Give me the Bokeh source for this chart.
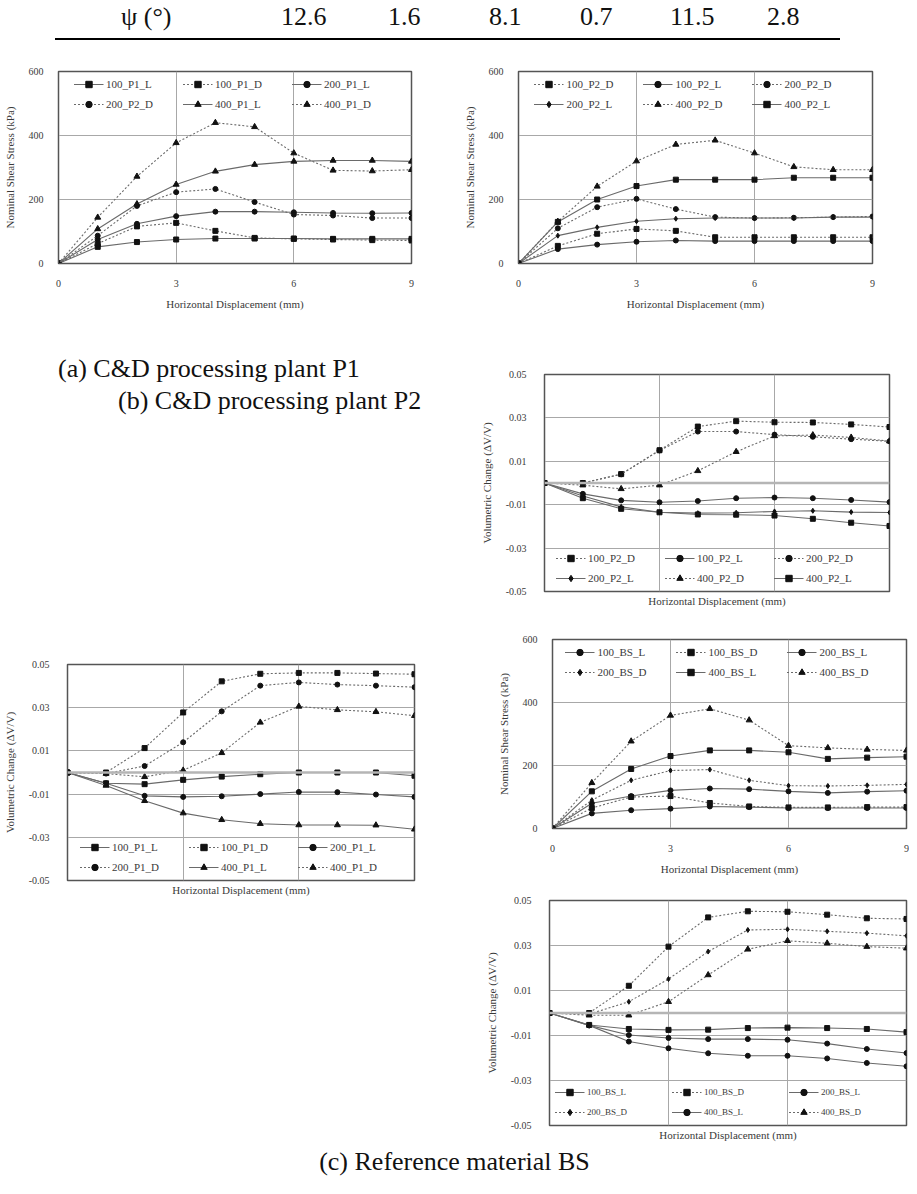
from bokeh.plotting import figure
from bokeh.models import Range1d, FixedTicker, Legend, LegendItem, Span, Div, Title
from bokeh.layouts import column, row
from bokeh.embed import file_html
from bokeh.resources import INLINE

# ---------------- data ----------------
psi_header = "ψ (°)"
psi_values = ["12.6", "1.6", "8.1", "0.7", "11.5", "2.8"]

disp = [0, 1, 2, 3, 4, 5, 6, 7, 8, 9]

# (a) P1 nominal shear stress (kPa)
p1_shear_labels = ["100_P1_L", "100_P1_D", "200_P1_L", "200_P2_D", "400_P1_L", "400_P1_D"]
p1_shear_100_L = [0, 52, 67, 75, 78, 78, 78, 77, 77, 77]
p1_shear_100_D = [0, 62, 116, 127, 102, 80, 77, 75, 73, 72]
p1_shear_200_L = [0, 75, 124, 148, 162, 162, 160, 158, 157, 158]
p1_shear_200_D = [0, 87, 180, 223, 233, 192, 153, 150, 142, 142]
p1_shear_400_L = [0, 108, 186, 247, 288, 309, 319, 322, 322, 319]
p1_shear_400_D = [0, 144, 272, 377, 440, 427, 345, 291, 289, 293]

# (b) P2 nominal shear stress (kPa)
p2_shear_labels = ["100_P2_D", "100_P2_L", "200_P2_D", "200_P2_L", "400_P2_D", "400_P2_L"]
p2_shear_100_D = [0, 55, 93, 108, 102, 82, 82, 82, 82, 82]
p2_shear_100_L = [0, 45, 59, 68, 72, 70, 70, 70, 70, 70]
p2_shear_200_D = [0, 110, 176, 202, 170, 145, 142, 143, 145, 147]
p2_shear_200_L = [0, 87, 113, 132, 140, 142, 142, 142, 145, 145]
p2_shear_400_D = [0, 131, 241, 320, 372, 385, 345, 302, 293, 293]
p2_shear_400_L = [0, 130, 200, 242, 262, 262, 262, 268, 268, 268]

# (b) P2 volumetric change
p2_vol_labels = ["100_P2_D", "100_P2_L", "200_P2_D", "200_P2_L", "400_P2_D", "400_P2_L"]
p2_vol_100_D = [0, 0.0, 0.0041, 0.0151, 0.0260, 0.0285, 0.0280, 0.0279, 0.0270, 0.0258]
p2_vol_100_L = [0, -0.0050, -0.0080, -0.0089, -0.0083, -0.0070, -0.0067, -0.0070, -0.0078, -0.0088]
p2_vol_200_D = [0, 0.0, 0.0040, 0.0150, 0.0237, 0.0237, 0.0223, 0.0213, 0.0202, 0.0192]
p2_vol_200_L = [0, -0.0060, -0.0110, -0.0135, -0.0139, -0.0137, -0.0131, -0.0128, -0.0134, -0.0136]
p2_vol_400_D = [0, -0.0010, -0.0027, -0.0010, 0.0056, 0.0144, 0.0217, 0.0221, 0.0210, 0.0193]
p2_vol_400_L = [0, -0.0070, -0.0119, -0.0135, -0.0145, -0.0146, -0.0150, -0.0165, -0.0183, -0.0198]

# (a) P1 volumetric change
p1_vol_labels = ["100_P1_L", "100_P1_D", "200_P1_L", "200_P1_D", "400_P1_L", "400_P1_D"]
p1_vol_100_L = [0, -0.0050, -0.0054, -0.0034, -0.0019, -0.0008, 0.0, 0.0, 0.0, -0.0015]
p1_vol_100_D = [0, 0.0, 0.0113, 0.0278, 0.0422, 0.0457, 0.0461, 0.0461, 0.0458, 0.0455]
p1_vol_200_L = [0, -0.0050, -0.0108, -0.0113, -0.0110, -0.0100, -0.0090, -0.0091, -0.0102, -0.0113]
p1_vol_200_D = [0, -0.0005, 0.0030, 0.0140, 0.0283, 0.0402, 0.0417, 0.0407, 0.0402, 0.0395]
p1_vol_400_L = [0, -0.0060, -0.0131, -0.0188, -0.0219, -0.0237, -0.0243, -0.0243, -0.0244, -0.0263]
p1_vol_400_D = [0, -0.0005, -0.0020, 0.0010, 0.0091, 0.0232, 0.0306, 0.0290, 0.0281, 0.0263]

# (c) BS nominal shear stress (kPa)
bs_shear_labels = ["100_BS_L", "100_BS_D", "200_BS_L", "200_BS_D", "400_BS_L", "400_BS_D"]
bs_shear_100_L = [0, 48, 58, 63, 70, 68, 65, 65, 65, 65]
bs_shear_100_D = [0, 65, 100, 103, 81, 70, 67, 67, 68, 68]
bs_shear_200_L = [0, 80, 103, 121, 127, 125, 118, 113, 117, 120]
bs_shear_200_D = [0, 90, 153, 184, 187, 153, 136, 135, 137, 140]
bs_shear_400_L = [0, 118, 189, 230, 248, 248, 242, 221, 225, 228]
bs_shear_400_D = [0, 145, 277, 359, 380, 344, 263, 256, 251, 248]

# (c) BS volumetric change
bs_vol_labels = ["100_BS_L", "100_BS_D", "200_BS_L", "200_BS_D", "400_BS_L", "400_BS_D"]
bs_vol_100_L = [0, -0.0053, -0.0071, -0.0075, -0.0074, -0.0067, -0.0065, -0.0067, -0.0071, -0.0085]
bs_vol_100_D = [0, 0.0, 0.0121, 0.0295, 0.0425, 0.0452, 0.0450, 0.0437, 0.0421, 0.0418]
bs_vol_200_L = [0, -0.0055, -0.0098, -0.0111, -0.0116, -0.0116, -0.0119, -0.0136, -0.0160, -0.0178]
bs_vol_200_D = [0, -0.0005, 0.0050, 0.0151, 0.0273, 0.0369, 0.0372, 0.0363, 0.0355, 0.0343]
bs_vol_400_L = [0, -0.0055, -0.0127, -0.0157, -0.0179, -0.0190, -0.0190, -0.0202, -0.0222, -0.0237]
bs_vol_400_D = [0, -0.0010, -0.0010, 0.0050, 0.0169, 0.0283, 0.0321, 0.0310, 0.0295, 0.0288]

x_ticks = [0, 3, 6, 9]
shear_ticks = [0, 200, 400, 600]
vol_ticks = [-0.05, -0.03, -0.01, 0.01, 0.03, 0.05]
vol_tick_text = ["-0.05", "-0.03", "-0.01", "0.01", "0.03", "0.05"]

captions_ab = ["(a) C&D processing plant P1", "(b) C&D processing plant P2"]
caption_c = "(c) Reference material BS"

# ---------------- styling helpers ----------------
FONT = "Liberation Serif"
CSS_FONT = "'Liberation Serif', 'Times New Roman', serif"
TXT = "#3a3a3a"
LINE = "#6a6a6a"
MARK = "#111111"


def make_fig(w, h, bl, br, bt, bb, y0, y1, yticks, ylabel, xlabels=True):
    p = figure(width=w, height=h, min_border_left=bl, min_border_right=br,
               min_border_top=bt, min_border_bottom=bb,
               x_range=Range1d(0, 9), y_range=Range1d(y0, y1),
               output_backend="svg", toolbar_location=None)
    try:
        p.frame_align = False
    except Exception:
        pass
    p.outline_line_color = "#555555"
    p.outline_line_width = 1.5
    p.background_fill_color = "white"
    p.border_fill_color = "white"
    p.xaxis.ticker = FixedTicker(ticks=x_ticks)
    p.yaxis.ticker = FixedTicker(ticks=yticks)
    p.xgrid.ticker = FixedTicker(ticks=x_ticks)
    p.ygrid.ticker = FixedTicker(ticks=yticks)
    for ax in (p.xaxis[0], p.yaxis[0]):
        ax.major_tick_line_color = None
        ax.minor_tick_line_color = None
        ax.axis_line_color = "#555555"
        ax.major_label_text_font = FONT
        ax.major_label_text_font_size = "10px"
        ax.major_label_text_color = TXT
        ax.axis_label_text_font = FONT
        ax.axis_label_text_font_size = "11px"
        ax.axis_label_text_font_style = "normal"
        ax.axis_label_text_color = TXT
    p.yaxis.axis_label = ylabel
    p.yaxis.major_label_standoff = 9
    p.yaxis.axis_label_standoff = 10
    if xlabels:
        p.xaxis.axis_label = "Horizontal Displacement (mm)"
        p.xaxis.major_label_standoff = 10
        p.xaxis.axis_label_standoff = 8
    else:
        p.xaxis.visible = False
        p.add_layout(Title(text="Horizontal Displacement (mm)", align="center",
                           text_font=FONT, text_font_size="11px", text_font_style="normal",
                           text_color=TXT, standoff=3), "below")
    for g in (p.xgrid[0], p.ygrid[0]):
        g.grid_line_color = "#a8a8a8"
        g.grid_line_width = 1
    return p


def add_series(p, ys, labels, styles, legend_loc, legend_font="11px", label_width=72):
    items = []
    for y, lab, (dash, marker) in zip(ys, labels, styles):
        lr = p.line(disp, y, line_color=LINE, line_width=1.1, line_dash=dash)
        sz = 6 if marker == "triangle" else 5
        sr = p.scatter(disp, y, marker=marker, size=sz, fill_color=MARK, line_color=MARK)
        items.append(LegendItem(label=lab, renderers=[lr, sr]))
    leg = Legend(items=items, location=legend_loc, orientation="horizontal", ncols=3,
                 label_text_font=FONT, label_text_font_size=legend_font,
                 label_text_color=TXT, glyph_width=30, glyph_height=16,
                 label_height=16, label_width=label_width, label_standoff=3,
                 spacing=4, padding=2, margin=3,
                 background_fill_alpha=0, border_line_alpha=0)
    p.add_layout(leg)


SOLID = "solid"
DOT = "2 2"

# ---------------- header table ----------------
hdr_pos = [121, 281, 388, 489, 580, 670, 767]
hdr_html = ['<div style="position:relative;width:909px;height:62px;font-family:%s;'
            'font-size:26px;color:#111;">' % CSS_FONT]
for txt, xpos in zip([psi_header] + psi_values, hdr_pos):
    hdr_html.append('<span style="position:absolute;left:%dpx;top:-2px;white-space:nowrap;">%s</span>' % (xpos, txt))
hdr_html.append('<div style="position:absolute;left:55px;top:38px;width:785px;height:0;'
                'border-top:2.5px solid #000;"></div></div>')
header = Div(text="".join(hdr_html), width=909, height=62, margin=0)

# ---------------- (a) shear P1 ----------------
fa = make_fig(437, 251, 58, 26, 9, 50, 0, 600, shear_ticks, "Nominal Shear Stress (kPa)")
add_series(fa, [p1_shear_100_L, p1_shear_100_D, p1_shear_200_L, p1_shear_200_D, p1_shear_400_L, p1_shear_400_D],
           p1_shear_labels,
           [(SOLID, "square"), (DOT, "square"), (SOLID, "circle"), (DOT, "circle"), (SOLID, "triangle"), (DOT, "triangle")],
           "top_center")

# ---------------- (b) shear P2 ----------------
fb = make_fig(472, 251, 81, 37, 9, 50, 0, 600, shear_ticks, "Nominal Shear Stress (kPa)")
add_series(fb, [p2_shear_100_D, p2_shear_100_L, p2_shear_200_D, p2_shear_200_L, p2_shear_400_D, p2_shear_400_L],
           p2_shear_labels,
           [(DOT, "square"), (SOLID, "circle"), (DOT, "circle"), (SOLID, "diamond"), (DOT, "triangle"), (SOLID, "square")],
           "top_center")


def vol_fig(w, h, bl, br, bt, bb):
    p = make_fig(w, h, bl, br, bt, bb, -0.05, 0.05, vol_ticks, "Volumetric Change (ΔV/V)", xlabels=False)
    p.yaxis.major_label_overrides = {t: s for t, s in zip(vol_ticks, vol_tick_text)}
    p.yaxis.major_label_standoff = 12
    p.add_layout(Span(location=0, dimension="width", line_color="#b5b5b5", line_width=2.5))
    return p


# ---------------- (b) volumetric P2 ----------------
fc = vol_fig(472, 305, 107, 20, 61, 27)
add_series(fc, [p2_vol_100_D, p2_vol_100_L, p2_vol_200_D, p2_vol_200_L, p2_vol_400_D, p2_vol_400_L],
           p2_vol_labels,
           [(DOT, "square"), (SOLID, "circle"), (DOT, "circle"), (SOLID, "diamond"), (DOT, "triangle"), (SOLID, "square")],
           "bottom_center", label_width=72)

# ---------------- captions (a), (b) ----------------
cap_html = ('<div style="position:relative;width:437px;height:319px;font-family:%s;'
            'font-size:26px;color:#111;">'
            '<span style="position:absolute;left:58px;top:37px;white-space:nowrap;">%s</span>'
            '<span style="position:absolute;left:118px;top:69px;white-space:nowrap;">%s</span></div>'
            % (CSS_FONT, captions_ab[0], captions_ab[1]))
cap_ab = Div(text=cap_html, width=437, height=319, margin=0)

# ---------------- (a) volumetric P1 ----------------
fd = vol_fig(437, 275, 65, 23, 32, 27)
add_series(fd, [p1_vol_100_L, p1_vol_100_D, p1_vol_200_L, p1_vol_200_D, p1_vol_400_L, p1_vol_400_D],
           p1_vol_labels,
           [(SOLID, "square"), (DOT, "square"), (SOLID, "circle"), (DOT, "circle"), (SOLID, "triangle"), (DOT, "triangle")],
           "bottom_center", label_width=72)

# ---------------- (c) shear BS ----------------
fe = make_fig(472, 264, 115, 3, 21, 54, 0, 600, shear_ticks, "Nominal Shear Stress (kPa)")
add_series(fe, [bs_shear_100_L, bs_shear_100_D, bs_shear_200_L, bs_shear_200_D, bs_shear_400_L, bs_shear_400_D],
           bs_shear_labels,
           [(SOLID, "circle"), (DOT, "square"), (SOLID, "circle"), (DOT, "diamond"), (SOLID, "square"), (DOT, "triangle")],
           "top_center", label_width=74)

# ---------------- (c) volumetric BS ----------------
ff = vol_fig(472, 263, 112, 3, 18, 20)
add_series(ff, [bs_vol_100_L, bs_vol_100_D, bs_vol_200_L, bs_vol_200_D, bs_vol_400_L, bs_vol_400_D],
           bs_vol_labels,
           [(SOLID, "square"), (DOT, "square"), (SOLID, "circle"), (DOT, "diamond"), (SOLID, "circle"), (DOT, "triangle")],
           "bottom_center", legend_font="9px", label_width=80)

cap_c = Div(text=('<div style="width:909px;height:33px;text-align:center;font-family:%s;'
                  'font-size:26px;color:#111;line-height:33px;">%s</div>' % (CSS_FONT, caption_c)),
            width=909, height=33, margin=0)

left_col = column(fa, cap_ab, fd, spacing=0)
right_col = column(fb, fc, fe, ff, spacing=0)
layout = column(header, row(left_col, right_col, spacing=0), cap_c, spacing=0)

open("out.html", "w").write(file_html(layout, INLINE))
